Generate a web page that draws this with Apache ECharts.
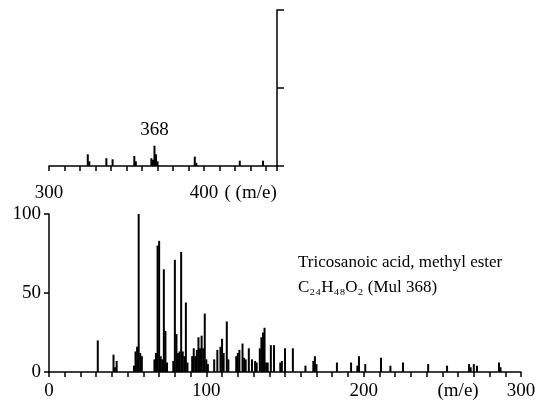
<!DOCTYPE html>
<html>
<head>
<meta charset="utf-8">
<script src="https://cdn.jsdelivr.net/npm/echarts@6/dist/echarts.min.js"></script>
<style>
html,body{margin:0;padding:0;background:#fff;}
#chart{width:544px;height:408px;}
</style>
</head>
<body>
<div id="chart"></div>
<script>
// Main spectrum (m/z 0-300)
var mainMz  = [31,41,42,43,54,55,56,57,58,59,67,68,69,70,71,72,73,74,75,79,80,81,82,83,84,85,86,87,88,
               91,92,93,94,95,96,97,98,99,100,101,105,107,109,110,111,113,114,119,120,121,123,124,125,127,129,131,132,
               134,135,136,137,138,139,141,143,147,148,150,155,163,168,169,170,183,192,196,197,201,211,217,225,241,253,267,268,270,272,286,287];
var mainInt = [20,11,3,7,4,13,16,100,12,10,8,12,80,83,10,8,65,26,6,7,71,24,12,13,76,13,10,44,6,
               10,15,10,14,22,15,23,15,37,8,5,8,14,16,21,12,32,8,10,12,14,18,9,8,15,8,7,6,
               15,22,25,28,6,6,17,17,6,7,15,15,4,7,10,5,6,6,4,10,5,9,4,6,5,4,5,3,5,4,6,3];
// Inset spectrum (m/z 300-447)
var insetMz  = [325,326,337,341,355,356,366,367,368,369,370,394,395,423,438];
var insetInt = [7.5,3,5,4.3,6.4,3,5,4,13,7.5,3,6,2,3.4,3.4];
// Tick labels
var mainXLabels  = {0:'0',100:'100',200:'200',260:'(m/e)',300:'300'};
var insetXLabels = {300:'300',400:'400',430:'( (m/e)'};
var mainYLabels  = {0:'0',50:'50',100:'100'};
var moleculeName = 'Tricosanoic acid, methyl ester';
var formulaText  = 'C\u2082\u2084H\u2084\u2088O\u2082 (Mul 368)';
var molIonLabel  = '368';

var FONT = 'Liberation Serif';
var mainData = mainMz.map(function(m,i){return [m, mainInt[i]];});
var insetData = insetMz.map(function(m,i){
  var d = {value:[m, insetInt[i]]};
  if (String(m) === molIonLabel) {
    d.label = {show:true, position:'top', distance:6, formatter:molIonLabel,
               fontFamily:FONT, fontSize:19, color:'#000'};
  }
  return d;
});

var axisLineStyle = {color:'#000', width:1.5};
var chart = echarts.init(document.getElementById('chart'), null, {renderer:'canvas'});
chart.setOption({
  animation:false,
  backgroundColor:'#fff',
  grid:[
    {left:49, right:23, top:214, bottom:36},
    {left:49, right:267, top:10, bottom:242}
  ],
  xAxis:[
    {gridIndex:0, type:'value', min:0, max:300, interval:10,
     axisLine:{show:true, lineStyle:axisLineStyle},
     axisTick:{show:true, length:5, lineStyle:{color:'#000', width:1.5}},
     splitLine:{show:false},
     axisLabel:{interval:0, margin:10, fontFamily:FONT, fontSize:19, color:'#000',
       formatter:function(v){return mainXLabels[v] !== undefined ? mainXLabels[v] : '';}}
    },
    {gridIndex:1, type:'value', min:300, max:447, interval:10,
     axisLine:{show:true, lineStyle:axisLineStyle},
     axisTick:{show:true, length:5, lineStyle:{color:'#000', width:1.5}},
     splitLine:{show:false},
     axisLabel:{interval:0, margin:18, fontFamily:FONT, fontSize:19, color:'#000',
       formatter:function(v){return insetXLabels[v] !== undefined ? insetXLabels[v] : '';}}
    }
  ],
  yAxis:[
    {gridIndex:0, type:'value', min:0, max:100, interval:50,
     axisLine:{show:true, lineStyle:axisLineStyle},
     axisTick:{show:true, length:5, lineStyle:{color:'#000', width:1.5}},
     splitLine:{show:false},
     axisLabel:{margin:8, fontFamily:FONT, fontSize:19, color:'#000',
       formatter:function(v){return mainYLabels[v] !== undefined ? mainYLabels[v] : '';}}
    },
    {gridIndex:1, type:'value', min:0, max:100, interval:50, position:'right',
     axisLine:{show:true, lineStyle:axisLineStyle},
     axisTick:{show:true, length:7, lineStyle:{color:'#000', width:1.5}},
     splitLine:{show:false},
     axisLabel:{show:false}
    }
  ],
  series:[
    {type:'bar', xAxisIndex:0, yAxisIndex:0, data:mainData, barWidth:2,
     itemStyle:{color:'#000'}, barGap:'-100%'},
    {type:'bar', xAxisIndex:1, yAxisIndex:1, data:insetData, barWidth:2,
     itemStyle:{color:'#000'}, barGap:'-100%'}
  ],
  graphic:[
    {type:'text', left:298, top:254, style:{text:moleculeName, font:'17px "Liberation Serif"', fill:'#000'}},
    {type:'text', left:298, top:279, style:{text:formulaText, font:'17px "Liberation Serif"', fill:'#000'}}
  ]
});
</script>
</body>
</html>
